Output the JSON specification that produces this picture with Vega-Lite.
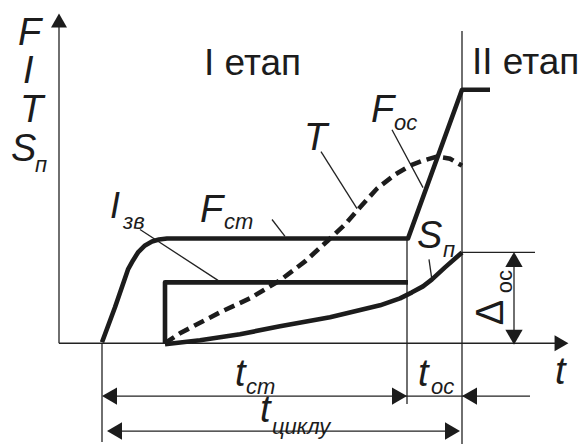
{
  "$schema": "https://vega.github.io/schema/vega-lite/v6.json",
  "width": 586,
  "height": 445,
  "padding": 0,
  "autosize": {"type": "fit", "contains": "padding"},
  "background": "white",
  "config": {"view": {"stroke": null}},
  "datasets": {
    "thick": [
      {"s": "F", "o": 1, "x": 102, "y": 343},
      {"s": "F", "o": 2, "x": 115, "y": 308},
      {"s": "F", "o": 3, "x": 128, "y": 270},
      {"s": "F", "o": 4, "x": 133, "y": 261},
      {"s": "F", "o": 5, "x": 138, "y": 253},
      {"s": "F", "o": 6, "x": 145, "y": 246},
      {"s": "F", "o": 7, "x": 152, "y": 242},
      {"s": "F", "o": 8, "x": 159, "y": 240},
      {"s": "F", "o": 9, "x": 167, "y": 239},
      {"s": "F", "o": 10, "x": 408, "y": 239},
      {"s": "F", "o": 11, "x": 462, "y": 90},
      {"s": "F", "o": 12, "x": 490, "y": 90},
      {"s": "I", "o": 1, "x": 165, "y": 344},
      {"s": "I", "o": 2, "x": 165, "y": 283},
      {"s": "I", "o": 3, "x": 408, "y": 283},
      {"s": "S", "o": 1, "x": 165, "y": 345},
      {"s": "S", "o": 2, "x": 200, "y": 341},
      {"s": "S", "o": 3, "x": 240, "y": 335},
      {"s": "S", "o": 4, "x": 280, "y": 327},
      {"s": "S", "o": 5, "x": 330, "y": 318},
      {"s": "S", "o": 6, "x": 380, "y": 306},
      {"s": "S", "o": 7, "x": 400, "y": 299},
      {"s": "S", "o": 8, "x": 412, "y": 293},
      {"s": "S", "o": 9, "x": 423, "y": 287},
      {"s": "S", "o": 10, "x": 432, "y": 280},
      {"s": "S", "o": 11, "x": 445, "y": 268},
      {"s": "S", "o": 12, "x": 462, "y": 253}
    ],
    "dashed": [
      {"o": 1, "x": 165, "y": 344},
      {"o": 2, "x": 180, "y": 334},
      {"o": 3, "x": 220, "y": 313},
      {"o": 4, "x": 250, "y": 299},
      {"o": 5, "x": 280, "y": 281},
      {"o": 6, "x": 305, "y": 262},
      {"o": 7, "x": 328, "y": 241},
      {"o": 8, "x": 345, "y": 225},
      {"o": 9, "x": 358, "y": 210},
      {"o": 10, "x": 377, "y": 189},
      {"o": 11, "x": 395, "y": 175},
      {"o": 12, "x": 410, "y": 166},
      {"o": 13, "x": 423, "y": 161},
      {"o": 14, "x": 437, "y": 157},
      {"o": 15, "x": 450, "y": 159},
      {"o": 16, "x": 462, "y": 166}
    ],
    "thin": [
      {"x": 59, "y": 26, "x2": 59, "y2": 344},
      {"x": 59, "y": 344, "x2": 556, "y2": 344},
      {"x": 102, "y": 344, "x2": 102, "y2": 443},
      {"x": 407, "y": 239, "x2": 407, "y2": 405},
      {"x": 462, "y": 31, "x2": 462, "y2": 445},
      {"x": 462, "y": 253, "x2": 535, "y2": 253},
      {"x": 514, "y": 258, "x2": 514, "y2": 340},
      {"x": 106, "y": 397, "x2": 530, "y2": 397},
      {"x": 110, "y": 432, "x2": 456, "y2": 432},
      {"x": 140, "y": 230, "x2": 218, "y2": 281},
      {"x": 272, "y": 220, "x2": 285, "y2": 237},
      {"x": 321, "y": 152, "x2": 357, "y2": 209},
      {"x": 392, "y": 130, "x2": 423, "y2": 188},
      {"x": 429, "y": 260, "x2": 432, "y2": 281}
    ],
    "arrows": [
      {"x": 59, "y": 20.5, "shape": "triangle-up", "size": 256},
      {"x": 561.5, "y": 344, "shape": "triangle-right", "size": 256},
      {"x": 514, "y": 260, "shape": "triangle-up", "size": 300},
      {"x": 514, "y": 338, "shape": "triangle-down", "size": 300},
      {"x": 109.5, "y": 397, "shape": "triangle-left", "size": 300},
      {"x": 399.5, "y": 397, "shape": "triangle-right", "size": 300},
      {"x": 469.5, "y": 397, "shape": "triangle-left", "size": 300},
      {"x": 114.5, "y": 432, "shape": "triangle-left", "size": 300},
      {"x": 452.5, "y": 432, "shape": "triangle-right", "size": 300}
    ],
    "italic": [
      {"t": "F", "x": 18, "y": 45, "size": 38},
      {"t": "I", "x": 23, "y": 83, "size": 38},
      {"t": "T", "x": 20, "y": 122, "size": 38},
      {"t": "S", "x": 11, "y": 161, "size": 38},
      {"t": "п", "x": 35, "y": 172, "size": 22},
      {"t": "I", "x": 110, "y": 218, "size": 36},
      {"t": "зв", "x": 123, "y": 230, "size": 22},
      {"t": "F", "x": 200, "y": 222, "size": 38},
      {"t": "ст", "x": 224, "y": 230, "size": 22},
      {"t": "T", "x": 304, "y": 150, "size": 38},
      {"t": "F", "x": 371, "y": 122, "size": 38},
      {"t": "ос", "x": 394, "y": 130, "size": 22},
      {"t": "S", "x": 417, "y": 249, "size": 38},
      {"t": "п", "x": 443, "y": 258, "size": 22},
      {"t": "t", "x": 235, "y": 387, "size": 38},
      {"t": "ст", "x": 246, "y": 395, "size": 22},
      {"t": "t", "x": 418, "y": 387, "size": 38},
      {"t": "ос", "x": 431, "y": 395, "size": 22},
      {"t": "t", "x": 260, "y": 423, "size": 38},
      {"t": "циклу", "x": 272, "y": 435, "size": 22},
      {"t": "t", "x": 555, "y": 385, "size": 38}
    ],
    "normal": [
      {"t": "I етап", "x": 204, "y": 75, "size": 37, "a": 0},
      {"t": "II етап", "x": 472, "y": 74, "size": 37, "a": 0},
      {"t": "Δ", "x": 503, "y": 326, "size": 38, "a": 270},
      {"t": "ос", "x": 512, "y": 294, "size": 22, "a": 270}
    ]
  },
  "layer": [
    {
      "data": {"name": "thin"},
      "mark": {"type": "rule", "color": "#222222", "strokeWidth": 1.3},
      "encoding": {
        "x": {"field": "x", "type": "quantitative", "scale": {"domain": [0, 586], "nice": false, "zero": false}, "axis": null},
        "y": {"field": "y", "type": "quantitative", "scale": {"domain": [0, 445], "nice": false, "zero": false, "reverse": true}, "axis": null},
        "x2": {"field": "x2"},
        "y2": {"field": "y2"}
      }
    },
    {
      "data": {"name": "thick"},
      "mark": {"type": "line", "color": "#1c1c1c", "strokeWidth": 4.6, "strokeJoin": "round"},
      "encoding": {
        "x": {"field": "x", "type": "quantitative", "scale": {"domain": [0, 586], "nice": false, "zero": false}, "axis": null},
        "y": {"field": "y", "type": "quantitative", "scale": {"domain": [0, 445], "nice": false, "zero": false, "reverse": true}, "axis": null},
        "detail": {"field": "s", "type": "nominal"},
        "order": {"field": "o", "type": "quantitative"}
      }
    },
    {
      "data": {"name": "dashed"},
      "mark": {"type": "line", "color": "#1c1c1c", "strokeWidth": 4.6, "strokeDash": [11, 6]},
      "encoding": {
        "x": {"field": "x", "type": "quantitative", "scale": {"domain": [0, 586], "nice": false, "zero": false}, "axis": null},
        "y": {"field": "y", "type": "quantitative", "scale": {"domain": [0, 445], "nice": false, "zero": false, "reverse": true}, "axis": null},
        "order": {"field": "o", "type": "quantitative"}
      }
    },
    {
      "data": {"name": "arrows"},
      "mark": {"type": "point", "filled": true, "color": "#1c1c1c", "opacity": 1},
      "encoding": {
        "x": {"field": "x", "type": "quantitative", "scale": {"domain": [0, 586], "nice": false, "zero": false}, "axis": null},
        "y": {"field": "y", "type": "quantitative", "scale": {"domain": [0, 445], "nice": false, "zero": false, "reverse": true}, "axis": null},
        "shape": {"field": "shape", "type": "nominal", "scale": null},
        "size": {"field": "size", "type": "quantitative", "scale": null}
      }
    },
    {
      "data": {"name": "italic"},
      "mark": {"type": "text", "font": "Liberation Sans", "fontStyle": "italic", "align": "left", "baseline": "alphabetic", "color": "#1c1c1c"},
      "encoding": {
        "x": {"field": "x", "type": "quantitative", "scale": {"domain": [0, 586], "nice": false, "zero": false}, "axis": null},
        "y": {"field": "y", "type": "quantitative", "scale": {"domain": [0, 445], "nice": false, "zero": false, "reverse": true}, "axis": null},
        "text": {"field": "t"},
        "size": {"field": "size", "type": "quantitative", "scale": null}
      }
    },
    {
      "data": {"name": "normal"},
      "mark": {"type": "text", "font": "Liberation Sans", "align": "left", "baseline": "alphabetic", "color": "#1c1c1c"},
      "encoding": {
        "x": {"field": "x", "type": "quantitative", "scale": {"domain": [0, 586], "nice": false, "zero": false}, "axis": null},
        "y": {"field": "y", "type": "quantitative", "scale": {"domain": [0, 445], "nice": false, "zero": false, "reverse": true}, "axis": null},
        "text": {"field": "t"},
        "size": {"field": "size", "type": "quantitative", "scale": null},
        "angle": {"field": "a", "type": "quantitative", "scale": null}
      }
    }
  ]
}
